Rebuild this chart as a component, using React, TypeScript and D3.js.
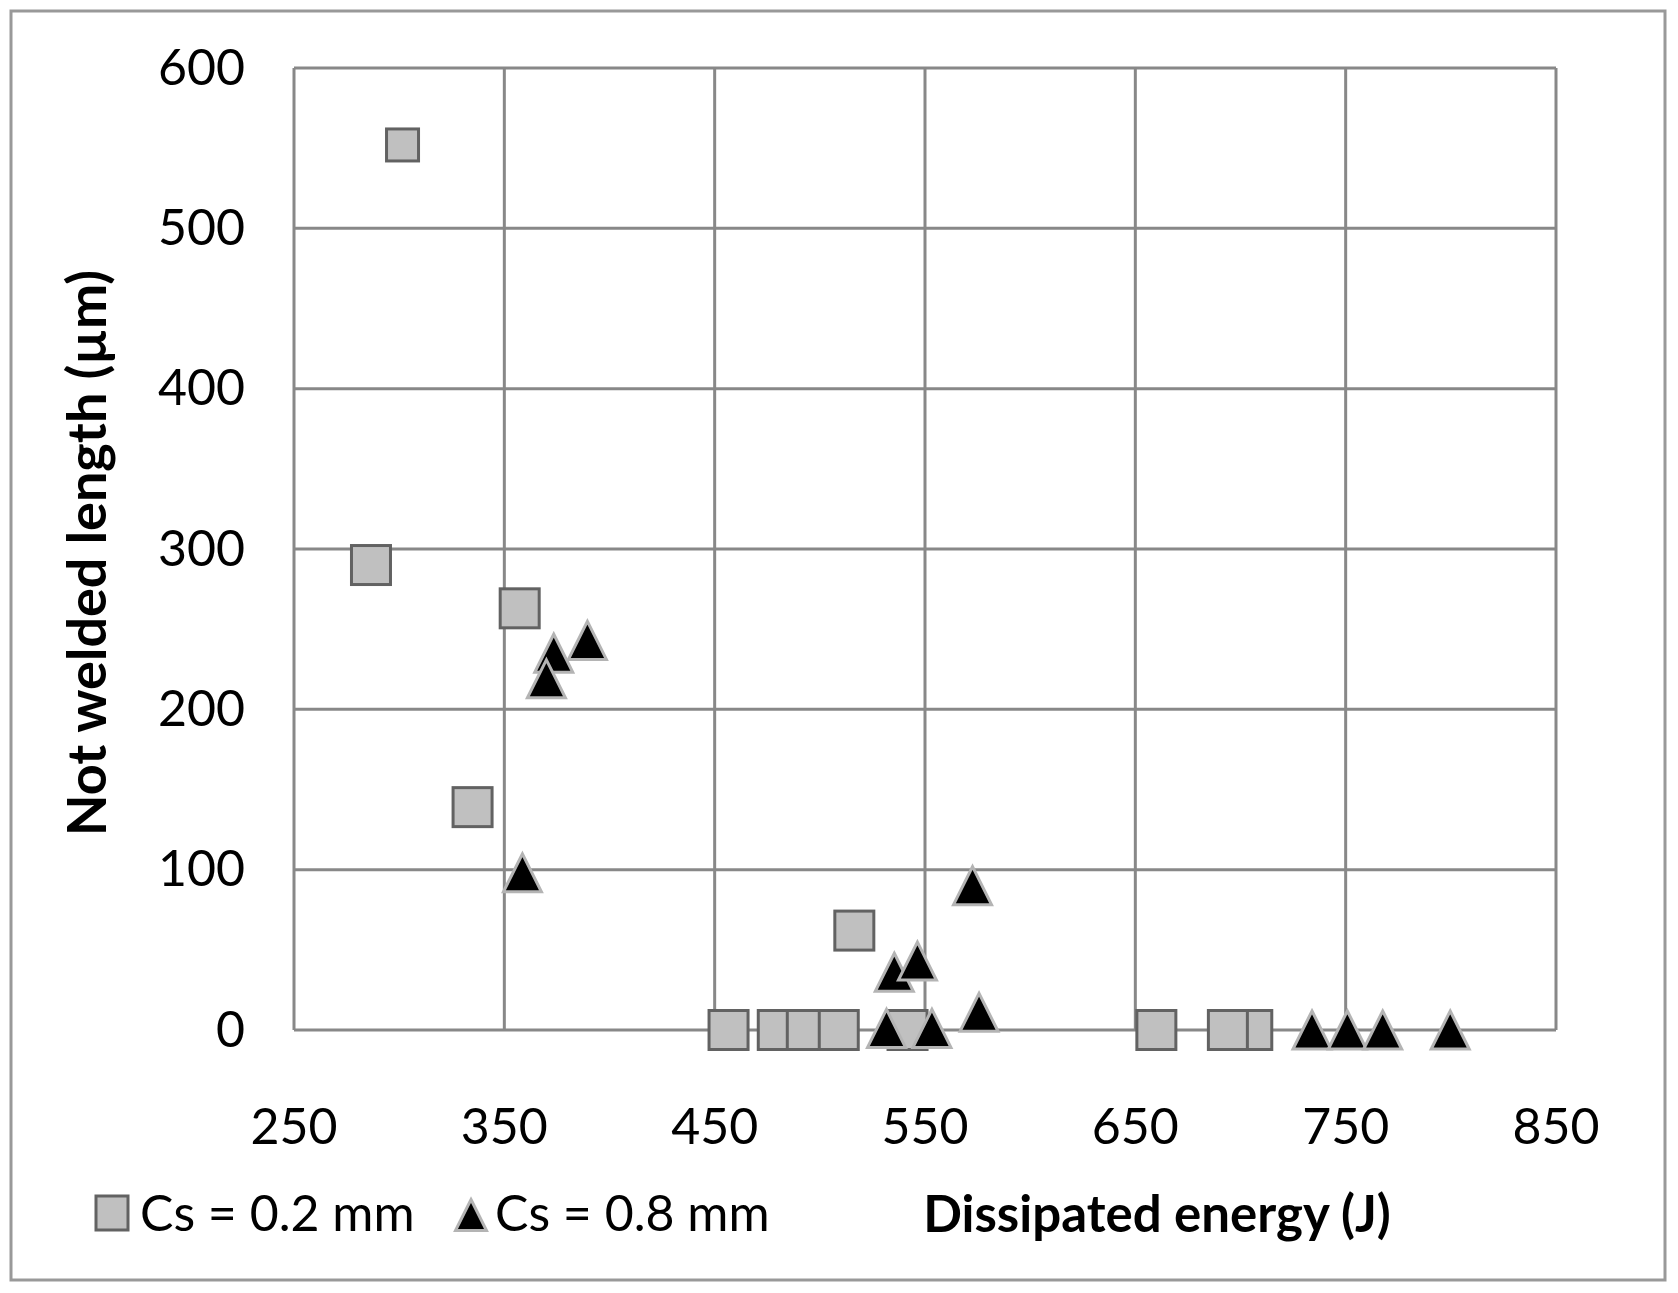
import React from 'react';
import * as d3 from 'd3';

// Cs = 0.2 mm (squares)
const squareEnergy = [301.6, 286.6, 357.3, 334.9, 516.4, 456.6, 480, 493.8, 509, 541.7, 660, 705.6, 694];
const squareLength = [552, 290, 263, 139, 62, 0, 0, 0, 0, 0, 0, 0, 0];

// Cs = 0.8 mm (triangles)
const triEnergy = [389.5, 373.5, 370, 358.6, 535.4, 546.4, 572.6, 575.7, 531.7, 553.3, 734, 750.8, 767.6, 799.7];
const triLength = [243, 235, 219, 98, 36, 43, 90, 11, 1, 1, 0, 0, 0, 0];

const xTicks = [250, 350, 450, 550, 650, 750, 850];
const yTicks = [0, 100, 200, 300, 400, 500, 600];
const legendLabels = ['Cs = 0.2 mm', 'Cs = 0.8 mm'];

const W = 1678;
const H = 1293;
const margin = { left: 294, right: W - 1556, top: 68, bottom: H - 1030 };
const font = 'Lato, "Open Sans", sans-serif';

const x = d3.scaleLinear().domain([250, 850]).range([margin.left, W - margin.right]);
const y = d3.scaleLinear().domain([0, 600]).range([H - margin.bottom, margin.top]);

const triPath = (s: number) => `M0,${-s / 2}L${s / 2},${s / 2}L${-s / 2},${s / 2}Z`;

const App = () => {
  const grid = '#888888';
  return (
    <svg width={W} height={H} style={{ position: 'absolute', left: 0, top: 0 }} fontFamily={font}>
      <rect x={0} y={0} width={W} height={H} fill="#fff" />
      <rect x={11} y={11} width={W - 24} height={H - 24} fill="none" stroke="#999" strokeWidth={3} />

      {/* grid */}
      <g stroke={grid} strokeWidth={3}>
        {xTicks.map((t) => (
          <line key={'x' + t} x1={x(t)} x2={x(t)} y1={y(0)} y2={y(600)} />
        ))}
        {yTicks.map((t) => (
          <line key={'y' + t} x1={x(250)} x2={x(850)} y1={y(t)} y2={y(t)} />
        ))}
      </g>

      {/* tick labels */}
      <g fontSize={50} fill="#000">
        {yTicks.map((t) => (
          <text key={'yl' + t} x={245} y={y(t) + 4} textAnchor="end" dominantBaseline="middle">
            {t}
          </text>
        ))}
        {xTicks.map((t) => (
          <text key={'xl' + t} x={x(t)} y={1144} textAnchor="middle">
            {t}
          </text>
        ))}
      </g>

      {/* squares */}
      <g fill="#c0c0c0" stroke="#626262" strokeWidth={3}>
        {squareEnergy.map((e, i) => {
          const s = i === 0 ? 32 : 39;
          return (
            <rect key={'s' + i} x={x(e) - s / 2} y={y(squareLength[i]) - s / 2} width={s} height={s} />
          );
        })}
      </g>

      {/* triangles */}
      <g fill="#000" stroke="#b4b4b4" strokeWidth={3} strokeLinejoin="miter">
        {triEnergy.map((e, i) => (
          <path key={'t' + i} d={triPath(38)} transform={`translate(${x(e)},${y(triLength[i])})`} />
        ))}
      </g>

      {/* axis titles */}
      <text
        transform="translate(106,553) rotate(-90)"
        textAnchor="middle"
        fontSize={54}
        fontWeight="bold"
        fill="#000"
      >
        Not welded length (µm)
      </text>
      <text x={1157} y={1232} textAnchor="middle" fontSize={51} fontWeight="bold" fill="#000">
        Dissipated energy (J)
      </text>

      {/* legend */}
      <g>
        <rect x={96} y={1196} width={32} height={34} fill="#c0c0c0" stroke="#626262" strokeWidth={3} />
        <text x={140} y={1231} fontSize={50} fill="#000">
          {legendLabels[0]}
        </text>
        <path d={triPath(31)} transform="translate(471,1215)" fill="#000" stroke="#b4b4b4" strokeWidth={3} />
        <text x={495} y={1231} fontSize={50} fill="#000">
          {legendLabels[1]}
        </text>
      </g>
    </svg>
  );
};

export default App;
